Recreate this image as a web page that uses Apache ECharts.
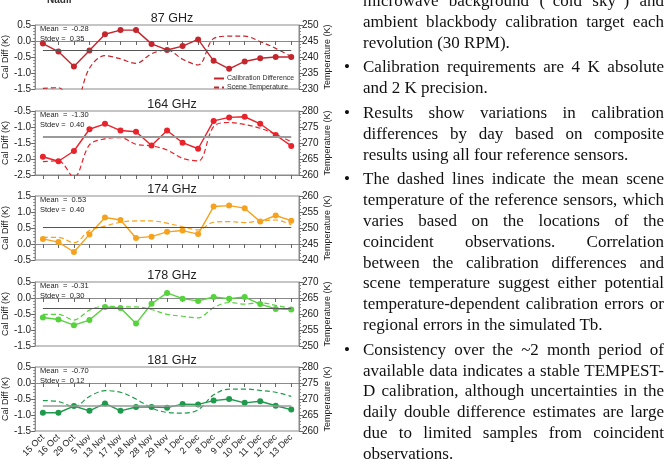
<!DOCTYPE html>
<html>
<head>
<meta charset="utf-8">
<script src="https://cdn.jsdelivr.net/npm/echarts@6/dist/echarts.min.js"></script>
<style>
  body { margin: 0; background: #fff; overflow: hidden; }
  #chart { position: absolute; left: 0; top: 0; width: 666px; height: 466px; }
  #notes {
    position: absolute; left: 363px; top: -9px; width: 301px;
    font-family: 'Liberation Serif', 'Times New Roman', serif;
    font-size: 17px; line-height: 20.8px; color: #111;
  }
  #notes p { margin: 0 0 4px 0; position: relative; }
  #notes span { display: block; text-align: justify; text-align-last: justify; white-space: nowrap; }
  #notes span.last { text-align-last: left; }
  #notes p.b::before { content: '\2022'; position: absolute; left: -19px; top: 0; }
</style>
</head>
<body>
<div id="chart"></div>
<div id="notes">
  <p>
    <span>microwave background (&ldquo;cold sky&rdquo;) and</span>
    <span>ambient blackbody calibration target each</span>
    <span class="last">revolution (30 RPM).</span>
  </p>
  <p class="b">
    <span>Calibration requirements are 4 K absolute</span>
    <span class="last">and 2 K precision.</span>
  </p>
  <p class="b">
    <span>Results show variations in calibration</span>
    <span>differences by day based on composite</span>
    <span class="last">results using all four reference sensors.</span>
  </p>
  <p class="b">
    <span>The dashed lines indicate the mean scene</span>
    <span>temperature of the reference sensors, which</span>
    <span>varies based on the locations of the</span>
    <span>coincident observations. Correlation</span>
    <span>between the calibration differences and</span>
    <span>scene temperature suggest either potential</span>
    <span>temperature-dependent calibration errors or</span>
    <span class="last">regional errors in the simulated Tb.</span>
  </p>
  <p class="b">
    <span>Consistency over the ~2 month period of</span>
    <span>available data indicates a stable TEMPEST-</span>
    <span>D calibration, although uncertainties in the</span>
    <span>daily double difference estimates are large</span>
    <span>due to limited samples from coincident</span>
    <span class="last">observations.</span>
  </p>
</div>
<script>
// days with coincident observations
const dates = ['15 Oct', '16 Oct', '29 Oct', '5 Nov', '13 Nov', '17 Nov', '18 Nov', '28 Nov', '29 Nov',
  '1 Dec', '2 Dec', '8 Dec', '9 Dec', '10 Dec', '11 Dec', '12 Dec', '13 Dec']

// calibration difference (K) per channel
const calDiff87 = [-0.08, -0.33, -0.80, -0.30, 0.21, 0.34, 0.34, -0.09, -0.28, -0.16, 0.05, -0.62, -0.87, -0.64, -0.54, -0.50, -0.50]
const calDiff164 = [-1.93, -2.07, -1.75, -1.07, -0.90, -1.11, -1.15, -1.58, -1.11, -1.49, -1.68, -0.81, -0.70, -0.68, -0.90, -1.25, -1.59]
const calDiff174 = [0.16, 0.06, -0.25, 0.30, 0.83, 0.75, 0.19, 0.23, 0.38, 0.42, 0.31, 1.17, 1.20, 1.12, 0.70, 0.89, 0.73]
const calDiff178 = [-0.61, -0.67, -0.85, -0.69, -0.28, -0.31, -0.80, -0.18, 0.16, -0.02, -0.09, 0.03, -0.02, 0.03, -0.19, -0.34, -0.36]
const calDiff181 = [-0.93, -0.93, -0.72, -0.87, -0.64, -0.87, -0.75, -0.75, -0.77, -0.66, -0.67, -0.55, -0.50, -0.62, -0.57, -0.71, -0.83]

// mean scene temperature (K) per channel
const sceneTemp87 = [230.2, 230.4, 225.0, 236.5, 240.4, 239.4, 238.0, 241.0, 242.2, 239.3, 237.5, 245.8, 246.5, 246.5, 244.8, 242.7, 240.1]
const sceneTemp164 = [264.2, 264.4, 259.3, 269.4, 271.3, 271.7, 269.6, 269.1, 267.8, 265.2, 264.4, 275.1, 276.4, 275.8, 274.6, 272.7, 270.4]
const sceneTemp174 = [247.1, 247.1, 245.4, 249.2, 250.6, 251.8, 252.2, 252.2, 251.5, 250.4, 249.4, 251.8, 252.0, 251.7, 252.2, 252.5, 251.0]
const sceneTemp178 = [259.9, 259.9, 258.1, 261.2, 262.5, 262.2, 262.2, 261.4, 259.9, 259.3, 258.8, 262.0, 263.6, 263.1, 263.5, 262.7, 261.7]
const sceneTemp181 = [269.5, 269.2, 267.6, 270.8, 272.6, 272.1, 270.0, 267.2, 265.8, 265.6, 266.6, 271.3, 273.1, 273.1, 272.7, 272.1, 270.8]

const channels = ['87 GHz', '164 GHz', '174 GHz', '178 GHz', '181 GHz']
const means = [-0.28, -1.30, 0.53, -0.31, -0.70]
const stdevs = [0.35, 0.40, 0.40, 0.30, 0.12]
const calRanges = [[-1.5, 0.5], [-2.5, -0.5], [-0.5, 1.5], [-1.5, 0.5], [-1.5, 0.5]]
const tempRanges = [[230, 250], [260, 280], [240, 260], [250, 270], [260, 280]]

const calDiffs = [calDiff87, calDiff164, calDiff174, calDiff178, calDiff181]
const sceneTemps = [sceneTemp87, sceneTemp164, sceneTemp174, sceneTemp178, sceneTemp181]

const colors = ['#c4262e', '#e8232b', '#f5a21e', '#55d23c', '#1f9a4c']
const meanLineColors = ['#555', '#9a9a9a', '#555', '#555', '#9a9a9a']
const meanLineWidths = [1.2, 2, 1.2, 1.2, 1.6]

const font = 'Liberation Sans, Arial, Helvetica, sans-serif'
const gridTops = [25, 111, 196, 282, 367]
const gridLeft = 35
const gridWidth = 264
const gridHeight = 64
const frame = '#8a8a8a'

const grid = []
const xAxis = []
const yAxis = []
const series = []
const title = []
const graphic = [{
  type: 'text', x: 47, y: -5,
  style: { text: 'Nadir', font: 'bold 10px ' + font, fill: '#333' }
}]

channels.forEach((name, i) => {
  const last = i === channels.length - 1
  grid.push({
    left: gridLeft, top: gridTops[i], width: gridWidth, height: gridHeight,
    show: true, borderColor: frame, borderWidth: 1
  })
  title.push({
    text: name, left: gridLeft + gridWidth / 2, top: gridTops[i] - 18, textAlign: 'center',
    textStyle: { fontSize: 12.5, fontWeight: 'normal', color: '#222', fontFamily: font }
  })
  xAxis.push({
    type: 'category', gridIndex: i, data: dates, boundaryGap: true,
    axisLine: { lineStyle: { color: frame } },
    axisTick: { show: true, alignWithLabel: true, interval: 0, length: 4, lineStyle: { color: '#666' } },
    axisLabel: {
      show: last, interval: 0, rotate: 45, fontSize: 9, margin: 5, color: '#222', fontFamily: font
    }
  })
  yAxis.push({
    type: 'value', gridIndex: i, position: 'left',
    min: calRanges[i][0], max: calRanges[i][1], interval: 0.5,
    name: 'Cal Diff (K)', nameLocation: 'middle', nameGap: 20, nameRotate: 90,
    nameTextStyle: { fontSize: 9, color: '#222', fontFamily: font },
    axisLine: { show: true, lineStyle: { color: frame } },
    axisTick: { show: true, length: 4, lineStyle: { color: '#666' } },
    minorTick: { show: true, splitNumber: 5, length: 2, lineStyle: { color: '#888' } },
    axisLabel: { fontSize: 10, margin: 4, color: '#222', fontFamily: font, formatter: v => v.toFixed(1) },
    splitLine: { show: false }
  })
  yAxis.push({
    type: 'value', gridIndex: i, position: 'right',
    min: tempRanges[i][0], max: tempRanges[i][1], interval: 5,
    name: 'Temperature (K)', nameLocation: 'middle', nameGap: 16, nameRotate: 90,
    nameTextStyle: { fontSize: 9, color: '#222', fontFamily: font },
    axisLine: { show: true, lineStyle: { color: frame } },
    axisTick: { show: true, length: 4, lineStyle: { color: '#666' } },
    minorTick: { show: true, splitNumber: 5, length: 2, lineStyle: { color: '#888' } },
    axisLabel: { fontSize: 10, margin: 3, color: '#222', fontFamily: font },
    splitLine: { show: false }
  })
  series.push({
    name: i === 0 ? 'Calibration Difference' : name + ' Calibration Difference',
    type: 'line', xAxisIndex: i, yAxisIndex: i * 2, data: calDiffs[i],
    symbol: 'circle', symbolSize: 6, z: 3,
    lineStyle: { color: colors[i], width: 1.4 },
    itemStyle: { color: colors[i] },
    markLine: {
      silent: true, symbol: ['none', 'none'], label: { show: false },
      lineStyle: { color: meanLineColors[i], type: 'solid', width: meanLineWidths[i] },
      data: [[{ coord: [dates[0], means[i]] }, { coord: [dates[dates.length - 1], means[i]] }]]
    }
  })
  series.push({
    name: i === 0 ? 'Scene Temperature' : name + ' Scene Temperature',
    type: 'line', xAxisIndex: i, yAxisIndex: i * 2 + 1, data: sceneTemps[i],
    symbol: 'none', smooth: 0.35, clip: true, z: 2,
    lineStyle: { color: colors[i], width: 1.2, type: [5, 3] },
    itemStyle: { color: colors[i] }
  })
  graphic.push({
    type: 'text', x: gridLeft + 5, y: gridTops[i] - 1,
    style: {
      text: 'Mean  =  ' + means[i].toFixed(2) + '\nStdev =  ' + stdevs[i].toFixed(2),
      font: '7.5px ' + font, fill: '#222', lineHeight: 10
    }
  })
})

const chart = echarts.init(document.getElementById('chart'))
chart.setOption({
  animation: false,
  title: title,
  grid: grid,
  xAxis: xAxis,
  yAxis: yAxis,
  legend: {
    data: ['Calibration Difference', 'Scene Temperature'],
    orient: 'vertical', left: 208, top: 70,
    itemWidth: 10, itemHeight: 6, itemGap: 2,
    itemStyle: { opacity: 0 },
    textStyle: { fontSize: 7, color: '#333', fontFamily: font, padding: [0, 0, 0, -2] }
  },
  series: series,
  graphic: graphic
})
</script>
</body>
</html>
